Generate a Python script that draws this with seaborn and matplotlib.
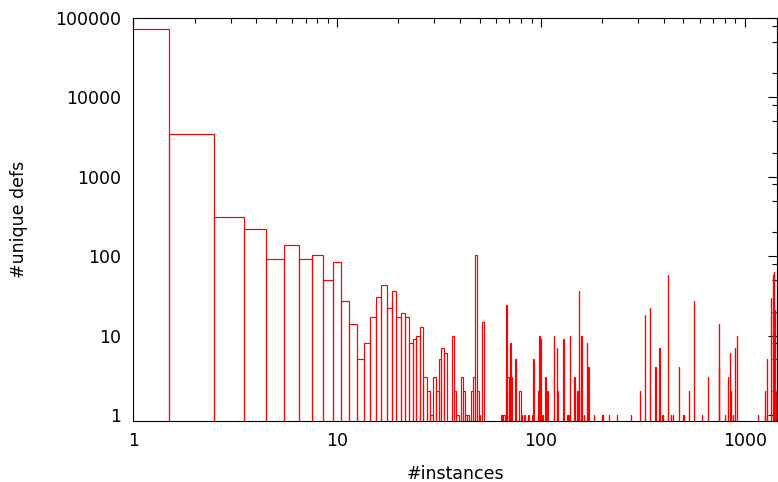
import numpy as np
import pandas as pd
import matplotlib
matplotlib.use("Agg")
import matplotlib.pyplot as plt
import seaborn as sns
from matplotlib.ticker import FixedLocator, NullFormatter

# number of instances (x) and number of unique definitions with that many instances (y)
instances = [1, 2, 3, 4, 5, 6, 7, 8, 9, 10, 11, 12, 13, 14, 15, 16, 17, 18, 19, 20,
             21, 22, 23, 24, 25, 26, 27, 28, 29, 30, 31, 32, 33, 34, 37, 38, 39, 41, 42, 43,
             44, 46, 47, 48, 49, 50, 52, 64, 65, 66, 68, 69, 70, 71, 72, 75, 79, 80, 83, 87,
             91, 92, 97, 98, 100, 102, 105, 107, 108, 116, 120, 121, 129, 135, 137, 139, 146, 151, 154, 157,
             158, 163, 168, 171, 182, 200, 202, 216, 236, 276, 306, 325, 342, 365, 382, 395, 398, 422, 436, 444,
             476, 497, 505, 531, 562, 615, 661, 745, 750, 800, 831, 844, 857, 873, 893, 914, 1166, 1255, 1262, 1290,
             1340, 1380, 1395, 1405, 1420]
unique_defs = [72000, 3460, 316, 221, 93, 139, 93, 104, 50, 84, 27, 14, 5, 8, 17, 31, 44, 22, 36, 17,
               19, 17, 8, 9, 10, 13, 3, 2, 1, 3, 2, 5, 7, 6, 10, 2, 1, 3, 2, 1,
               1, 2, 3, 105, 2, 1, 15, 1, 1, 1, 24, 3, 2, 8, 3, 5, 2, 1, 1, 1,
               1, 5, 2, 10, 9, 1, 3, 1, 2, 10, 7, 2, 9, 1, 1, 10, 3, 2, 36, 2,
               10, 1, 8, 4, 1, 1, 1, 1, 1, 1, 2, 18, 22, 4, 7, 1, 1, 58, 1, 1,
               4, 1, 1, 2, 27, 1, 3, 4, 14, 1, 3, 6, 2, 1, 7, 10, 1, 2, 1, 5,
               30, 58, 64, 21, 2]

x_ticks = [1, 10, 100, 1000]
x_tick_labels = ["1", "10", "100", "1000"]
y_ticks = [1, 10, 100, 1000, 10000, 100000]
y_tick_labels = ["1", "10", "100", "1000", "10000", "100000"]

sns.set_theme(style="white")
plt.rcParams["font.family"] = ["DejaVu Sans"]

W, H = 778, 482
fig = plt.figure(figsize=(W / 100, H / 100), dpi=100)
ax = fig.add_axes([133.3 / W, 61 / H, 643.7 / W, 403 / H])

df = pd.DataFrame({"instances": instances, "defs": unique_defs})
sns.histplot(data=df, x="instances", weights="defs", discrete=True, element="bars",
             fill=False, color="#ff0000", linewidth=0.85, ax=ax)

ax.set_xscale("log")
ax.set_yscale("log")
ax.set_xlim(1, 1440)
ax.set_ylim(0.84, 1e5)

ax.xaxis.set_major_locator(FixedLocator(x_ticks))
ax.set_xticklabels(x_tick_labels)
xminor = [m * 10 ** k for k in range(0, 4) for m in range(2, 10) if m * 10 ** k < 1440]
ax.xaxis.set_minor_locator(FixedLocator(xminor))
ax.xaxis.set_minor_formatter(NullFormatter())

ax.yaxis.set_major_locator(FixedLocator(y_ticks))
ax.set_yticklabels(y_tick_labels)
yminor = [m * 10 ** k for k in range(0, 5) for m in (2, 5, 8)]
ax.yaxis.set_minor_locator(FixedLocator(yminor))
ax.yaxis.set_minor_formatter(NullFormatter())

ax.tick_params(which="both", direction="in", top=True, right=True, color="black", width=0.8)
ax.tick_params(which="major", length=6.7)
ax.tick_params(which="minor", length=3.4)
ax.tick_params(axis="x", which="major", labelsize=12.5, pad=8, labelcolor="black")
ax.tick_params(axis="y", which="major", labelsize=12.5, pad=9, labelcolor="black")

for s in ax.spines.values():
    s.set_visible(True)
    s.set_color("black")
    s.set_linewidth(0.8)

ax.set_xlabel("#instances", fontsize=12.5, color="black")
ax.set_ylabel("#unique defs", fontsize=12.5, color="black")
ax.xaxis.label.set_va("center")
ax.yaxis.label.set_va("center")
ax.xaxis.set_label_coords(0.5, (421 - 474) / 403)
ax.yaxis.set_label_coords((19 - 133.3) / 643.7, 0.5)
ax.grid(False)

fig.savefig("out.png", dpi=100)
